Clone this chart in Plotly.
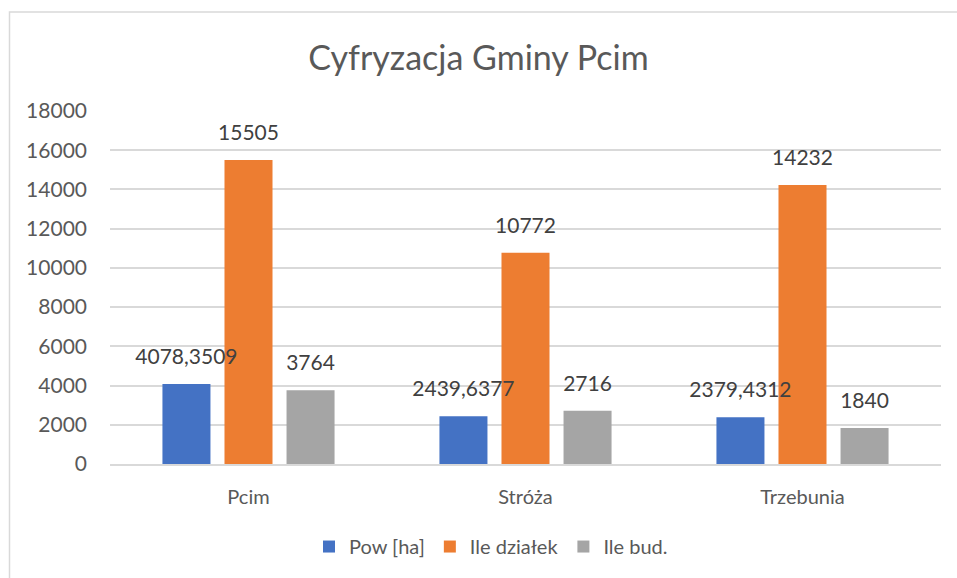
import plotly.graph_objects as go

categories = ["Pcim", "Stróża", "Trzebunia"]
pow_ha = [4078.3509, 2439.6377, 2379.4312]
ile_dzialek = [15505, 10772, 14232]
ile_bud = [3764, 2716, 1840]
series_names = ["Pow [ha]", "Ile działek", "Ile bud."]
colors = ["#4472C4", "#ED7D31", "#A5A5A5"]
y_ticks = list(range(0, 18001, 2000))


def fmt(v):
    if float(v).is_integer():
        return str(int(v))
    return ("%.4f" % v).replace(".", ",")


FONT = "Lato"
GAP = 0.328
fig = go.Figure()
all_vals = [pow_ha, ile_dzialek, ile_bud]
for i, (name, vals, col) in enumerate(zip(series_names, all_vals, colors)):
    fig.add_trace(go.Bar(
        name=name, x=categories, y=vals, marker=dict(color=col, line=dict(width=0)),
        offsetgroup=str(i), alignmentgroup="a",
    ))
for i, (name, vals) in enumerate(zip(series_names, all_vals)):
    fig.add_trace(go.Scatter(
        name=name + " labels", x=categories, y=vals, mode="markers+text",
        text=[fmt(v) for v in vals], textposition="top center",
        marker=dict(size=22, color="rgba(0,0,0,0)"), offsetgroup=str(i), alignmentgroup="a",
        cliponaxis=False, showlegend=False, hoverinfo="skip",
        textfont=dict(family=FONT, size=21, color="#404040"),
    ))

fig.update_layout(
    width=957, height=578,
    barmode="group", bargap=GAP, bargroupgap=0.226,
    scattermode="group", scattergap=GAP,
    paper_bgcolor="white", plot_bgcolor="white",
    margin=dict(l=110, r=16, t=111, b=112),
    title=dict(text="Cyfryzacja Gminy Pcim", x=0.5, xanchor="center", y=1 - 58 / 578, yanchor="middle",
               font=dict(family=FONT, size=34, color="#595959")),
    font=dict(family=FONT, color="#595959"),
    legend=dict(orientation="h", x=(491 - 110) / 831, xanchor="center", y=(466 - 549) / 355, yanchor="middle",
                font=dict(family=FONT, size=20, color="#595959"), traceorder="normal"),
    showlegend=True,
    yaxis=dict(range=[0, 18000], tickvals=y_ticks, ticktext=[str(t) for t in y_ticks],
               showgrid=True, gridcolor="#D9D9D9", gridwidth=1.5, zeroline=False,
               showline=False, ticks="", ticklabelstandoff=22,
               tickfont=dict(family=FONT, size=21, color="#595959")),
    xaxis=dict(showline=True, linecolor="#D9D9D9", linewidth=1.5, ticks="", ticklabelstandoff=14,
               tickfont=dict(family=FONT, size=20, color="#595959")),
    shapes=[dict(type="rect", xref="paper", yref="paper",
                 x0=(9.5 - 110) / 831, x1=(980 - 110) / 831,
                 y0=(466 - 600) / 355, y1=(466 - 11.5) / 355,
                 line=dict(color="#D9D9D9", width=1.5), fillcolor="rgba(0,0,0,0)", layer="below")],
)

fig.write_html("out.html", config={"displayModeBar": False},
               post_script="document.body.style.margin='0';")
